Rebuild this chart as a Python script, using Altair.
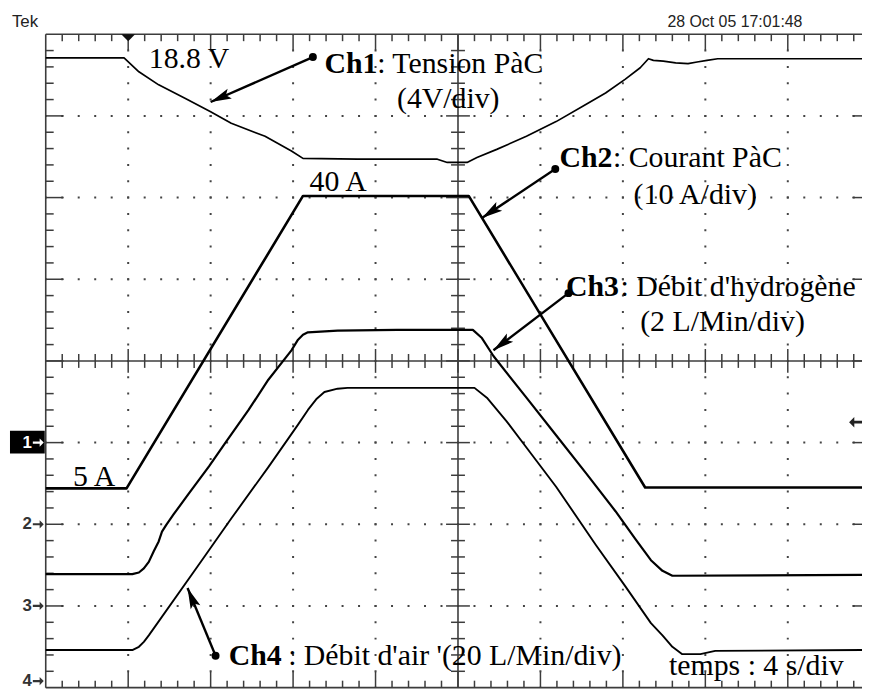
import math
import altair as alt
import pandas as pd

# ---------------- scope screen geometry (units = divisions) ----------------
X_DIVS = 9.9            # visible horizontal divisions (4 s/div)
Y_MIN, Y_MAX = -4, 4    # vertical divisions
W, H = 822, 658
SX = W / X_DIVS
SY = H / (Y_MAX - Y_MIN)

# ---------------- traces (x: divisions from left edge, y: divisions from centre) ----
CH1_X = [0, 0.95, 1.13, 1.37, 1.70, 2.00, 2.25, 2.66, 2.98, 3.12, 3.78, 4.75, 4.87,
         5.11, 5.23, 5.47, 5.83, 6.19, 6.55, 6.79, 7.03, 7.21, 7.31, 7.37, 7.49,
         7.64, 7.79, 7.90, 8.02, 8.15, 9.90]
CH1_Y = [3.71, 3.71, 3.54, 3.38, 3.21, 3.05, 2.91, 2.75, 2.57, 2.48, 2.47, 2.47, 2.43,
         2.43, 2.49, 2.59, 2.75, 2.93, 3.14, 3.28, 3.45, 3.59, 3.70, 3.68, 3.67,
         3.65, 3.64, 3.66, 3.68, 3.70, 3.70]

CH2_X = [0, 0.98, 3.12, 5.13, 7.27, 9.90]
CH2_Y = [-1.56, -1.56, 2.02, 2.02, -1.55, -1.55]

CH3_X = [0, 1.05, 1.13, 1.19, 1.25, 1.31, 1.37, 1.41, 1.46, 1.55, 1.73, 1.98, 2.18,
         2.46, 2.70, 2.98, 3.06, 3.12, 3.18, 3.54, 4.26, 5.18, 5.29, 5.43, 5.83,
         6.19, 6.55, 6.91, 7.15, 7.34, 7.48, 7.60, 9.90]
CH3_Y = [-2.61, -2.61, -2.59, -2.54, -2.46, -2.33, -2.21, -2.09, -2.01, -1.88, -1.63,
         -1.29, -1.00, -0.60, -0.23, 0.13, 0.26, 0.32, 0.35, 0.37, 0.38, 0.38, 0.28,
         0.06, -0.45, -0.91, -1.37, -1.84, -2.18, -2.44, -2.57, -2.63, -2.62]

CH4_X = [0, 1.05, 1.13, 1.19, 1.25, 1.86, 2.25, 2.70, 3.06, 3.18, 3.28, 3.38, 3.54,
         3.66, 5.20, 5.35, 5.59, 5.83, 6.19, 6.67, 7.03, 7.34, 7.48, 7.60, 7.72,
         7.94, 8.12, 9.90]
CH4_Y = [-3.54, -3.54, -3.50, -3.44, -3.36, -2.49, -1.93, -1.30, -0.78, -0.60, -0.47,
         -0.38, -0.34, -0.33, -0.33, -0.45, -0.74, -1.06, -1.54, -2.25, -2.76, -3.21,
         -3.36, -3.50, -3.59, -3.59, -3.55, -3.54]

# ---------------- annotations ----------------
BOLD_TEXT = ["Ch1", "Ch2", "Ch3", "Ch4"]
BOLD_X = [3.38, 6.23, 6.31, 2.22]
BOLD_Y = [3.53, 2.38, 0.80, -3.72]

REG_TEXT = ["18.8 V", ": Tension PàC", "(4V/div)", "40 A", ": Courant PàC",
            "(10 A/div)", ": Débit d'hydrogène", "(2 L/Min/div)", "5 A",
            ": Débit d'air '(20 L/Min/div)", "temps : 4 s/div"]
REG_X = [1.25, 4.02, 4.26, 3.20, 6.88, 7.13, 6.97, 7.21, 0.33, 2.94, 7.56]
REG_Y = [3.59, 3.53, 3.10, 2.08, 2.38, 1.92, 0.80, 0.37, -1.53, -3.72, -3.84]

ARROW_FROM_X = [3.24, 6.18, 6.34, 2.06]
ARROW_FROM_Y = [3.72, 2.35, 0.83, -3.61]
ARROW_TO_X = [2.00, 5.29, 5.43, 1.72]
ARROW_TO_Y = [3.17, 1.75, 0.13, -2.78]

GND_LABELS = ["1", "2", "3", "4"]
GND_Y = [-1.0, -2.0, -3.0, -3.92]

TRIG_POS_X = 1.0
TRIG_LEVEL_Y = -0.75
HEADER_TEXT = ["Tek", "28 Oct 05 17:01:48"]
HEADER_X = [-0.41, 7.54]
HEADER_Y = [4.085, 4.085]
HEADER_SIZE = [17, 16]

# ---------------- helpers ----------------
XS = alt.Scale(domain=[0, X_DIVS], nice=False, zero=False)
YS = alt.Scale(domain=[Y_MIN, Y_MAX], nice=False, zero=False)
GRID_COL = "#3c3c3c"
SERIF = "Liberation Serif"
FS = 30


def rules(df, color=GRID_COL, width=1.5, dash=None, dash_offset=None):
    kw = dict(color=color, strokeWidth=width, strokeCap="butt")
    if dash is not None:
        kw["strokeDash"] = dash
    if dash_offset is not None:
        kw["strokeDashOffset"] = dash_offset
    return alt.Chart(df).mark_rule(**kw).encode(
        x=alt.X("x:Q", scale=XS, axis=None),
        y=alt.Y("y:Q", scale=YS, axis=None),
        x2="x2:Q", y2="y2:Q")


def trace(xs, ys, width):
    df = pd.DataFrame({"x": xs, "y": ys, "i": range(len(xs))})
    return alt.Chart(df).mark_line(color="black", strokeWidth=width,
                                   strokeJoin="round").encode(
        x=alt.X("x:Q", scale=XS, axis=None),
        y=alt.Y("y:Q", scale=YS, axis=None),
        order="i:Q")


layers = []

# dotted graticule
vdots = pd.DataFrame({"x": [1, 2, 3, 4, 6, 7, 8, 9]})
vdots["x2"] = vdots["x"]
vdots["y"] = Y_MAX
vdots["y2"] = Y_MIN
hdots = pd.DataFrame({"y": [-3, -2, -1, 1, 2, 3]})
hdots["y2"] = hdots["y"]
hdots["x"] = 0
hdots["x2"] = X_DIVS
layers.append(rules(vdots, color="#444", width=2, dash=[2, 0.2 * SY - 2], dash_offset=1))
layers.append(rules(hdots, color="#444", width=2, dash=[2, 0.2 * SX - 2], dash_offset=1))

# border, centre axes
frame = pd.DataFrame({
    "x": [0, 0, 0, 0, 5],
    "x2": [X_DIVS, 0, X_DIVS, X_DIVS, 5],
    "y": [Y_MAX, Y_MIN, Y_MIN, 0, Y_MIN],
    "y2": [Y_MAX, Y_MAX, Y_MIN, 0, Y_MAX],
})
layers.append(rules(frame, width=1.6))

# tick marks
tk = []
for i in range(1, 50):
    x = i * 0.2
    major = i % 5 == 0
    lt = 16 if major else 7
    tk.append((x, Y_MAX, x, Y_MAX - lt / SY))
    tk.append((x, Y_MIN, x, Y_MIN + lt / SY))
    lc = 12 if major else 7
    tk.append((x, -lc / SY, x, lc / SY))
for j in range(1, 40):
    y = Y_MIN + j * 0.2
    major = j % 5 == 0
    ll = 18 if major else 8
    tk.append((0, y, ll / SX, y))
    lc = 12 if major else 7
    tk.append((5 - lc / SX, y, 5 + lc / SX, y))
    if major:
        tk.append((10 - 18 / SX, y, X_DIVS, y))
ticks = pd.DataFrame(tk, columns=["x", "y", "x2", "y2"])
layers.append(rules(ticks, width=1.5))

# traces
layers.append(trace(CH1_X, CH1_Y, 1.7))
layers.append(trace(CH2_X, CH2_Y, 2.6))
layers.append(trace(CH3_X, CH3_Y, 2.2))
layers.append(trace(CH4_X, CH4_Y, 1.9))

# arrows
arr = pd.DataFrame({"x": ARROW_FROM_X, "y": ARROW_FROM_Y,
                    "x2": ARROW_TO_X, "y2": ARROW_TO_Y})
arr["ang"] = [
    math.degrees(math.atan2((tx - fx) * SX, (ty - fy) * SY)) % 360
    for fx, fy, tx, ty in zip(ARROW_FROM_X, ARROW_FROM_Y, ARROW_TO_X, ARROW_TO_Y)
]
layers.append(rules(arr, color="black", width=2.4))
layers.append(alt.Chart(arr).mark_circle(color="black", opacity=1, size=64).encode(
    x=alt.X("x:Q", scale=XS, axis=None), y=alt.Y("y:Q", scale=YS, axis=None)))
layers.append(alt.Chart(arr).mark_point(
    shape="M0,0L0.5,2L0,1.6L-0.5,2Z", filled=True, color="black", opacity=1,
    size=441).encode(
    x=alt.X("x2:Q", scale=XS, axis=None), y=alt.Y("y2:Q", scale=YS, axis=None),
    angle=alt.Angle("ang:Q", scale=None)))

# annotation texts
bold = pd.DataFrame({"x": BOLD_X, "y": BOLD_Y, "t": BOLD_TEXT})
reg = pd.DataFrame({"x": REG_X, "y": REG_Y, "t": REG_TEXT})
layers.append(alt.Chart(bold).mark_text(
    align="left", baseline="alphabetic", font=SERIF, fontSize=FS,
    fontWeight="bold", color="black").encode(
    x=alt.X("x:Q", scale=XS, axis=None), y=alt.Y("y:Q", scale=YS, axis=None), text="t:N"))
layers.append(alt.Chart(reg).mark_text(
    align="left", baseline="alphabetic", font=SERIF, fontSize=FS,
    color="black").encode(
    x=alt.X("x:Q", scale=XS, axis=None), y=alt.Y("y:Q", scale=YS, axis=None), text="t:N"))

# ground markers on the left
gnd = pd.DataFrame({"t": GND_LABELS, "y": GND_Y})
gnd["x"] = -14 / SX
gnd["xa"] = -2 / SX
gnd["col"] = ["white", "#333", "#333", "#333"]
box = pd.DataFrame({"x": [-36 / SX], "x2": [-1 / SX],
                    "y": [GND_Y[0] + 12 / SY], "y2": [GND_Y[0] - 11 / SY]})
layers.append(alt.Chart(box).mark_rect(color="black").encode(
    x=alt.X("x:Q", scale=XS, axis=None), x2="x2:Q",
    y=alt.Y("y:Q", scale=YS, axis=None), y2="y2:Q"))
layers.append(alt.Chart(gnd).mark_text(
    align="right", baseline="middle", font="Liberation Sans", fontSize=17,
    fontWeight="bold").encode(
    x=alt.X("x:Q", scale=XS, axis=None), y=alt.Y("y:Q", scale=YS, axis=None),
    text="t:N", color=alt.Color("col:N", scale=None)))
SMALL_ARROW = "M0,0L-0.75,-0.75L-0.75,-0.2L-2,-0.2L-2,0.2L-0.75,0.2L-0.75,0.75Z"
layers.append(alt.Chart(gnd).mark_point(
    shape=SMALL_ARROW, filled=True, opacity=1, size=121).encode(
    x=alt.X("xa:Q", scale=XS, axis=None), y=alt.Y("y:Q", scale=YS, axis=None),
    color=alt.Color("col:N", scale=None)))

# trigger level (right) and trigger position (top)
trig = pd.DataFrame({"x": [X_DIVS - 13 / SX], "y": [TRIG_LEVEL_Y]})
layers.append(alt.Chart(trig).mark_point(
    shape=SMALL_ARROW, filled=True, opacity=1, size=196, angle=180,
    color="#222").encode(
    x=alt.X("x:Q", scale=XS, axis=None), y=alt.Y("y:Q", scale=YS, axis=None)))
tpos = pd.DataFrame({"x": [TRIG_POS_X], "y": [Y_MAX]})
layers.append(alt.Chart(tpos).mark_point(
    shape="M-1,0L1,0L0,1Z", filled=True, opacity=1, size=196, color="#111").encode(
    x=alt.X("x:Q", scale=XS, axis=None), y=alt.Y("y:Q", scale=YS, axis=None)))

# header
hdr = pd.DataFrame({"x": HEADER_X, "y": HEADER_Y, "t": HEADER_TEXT, "s": HEADER_SIZE})
layers.append(alt.Chart(hdr).mark_text(
    align="left", baseline="alphabetic", font="Liberation Sans",
    color="#222").encode(
    x=alt.X("x:Q", scale=XS, axis=None), y=alt.Y("y:Q", scale=YS, axis=None),
    text="t:N", size=alt.Size("s:Q", scale=None)))

chart = alt.layer(*layers).properties(
    width=W, height=H,
    autosize=alt.AutoSizeParams(type="none"),
    padding={"left": 38, "top": 24, "right": 0, "bottom": 3},
    background="white",
).configure_view(stroke=None)

chart.save("out.html", embed_options={"renderer": "svg", "actions": False})
